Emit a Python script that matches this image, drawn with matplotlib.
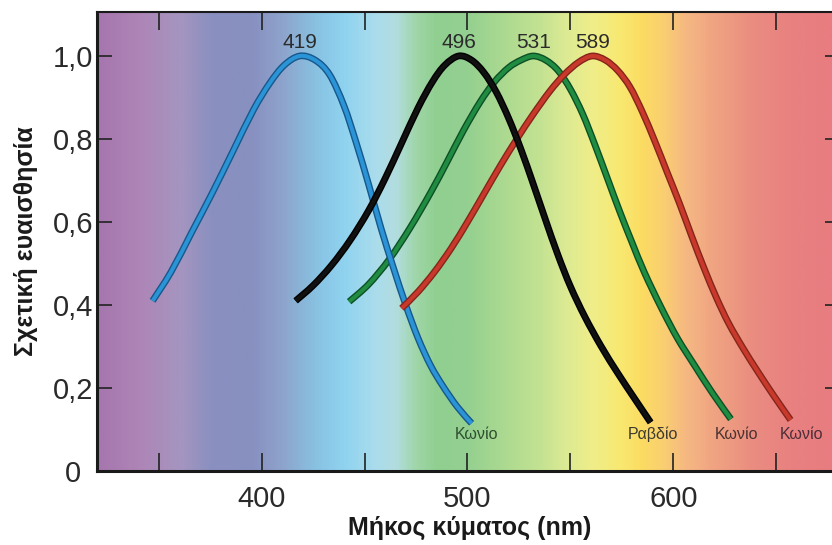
import matplotlib
matplotlib.use("Agg")
import matplotlib.pyplot as plt
import matplotlib.patheffects as pe
import numpy as np
from matplotlib.colors import LinearSegmentedColormap
from matplotlib.path import Path
from matplotlib.patches import PathPatch

plt.rcParams['font.family'] = ['Liberation Sans', 'DejaVu Sans']

# Sensitivity curves (nm, relative sensitivity)
blue_x = [347, 356, 366, 376, 386, 396, 404, 411, 418.5, 426, 433, 440, 446, 452,
          458, 464, 470, 476, 482, 488, 495, 502]
blue_y = [0.41, 0.48, 0.575, 0.67, 0.77, 0.87, 0.935, 0.978, 1.0, 0.99, 0.955, 0.88,
          0.79, 0.69, 0.585, 0.49, 0.40, 0.32, 0.255, 0.205, 0.155, 0.115]

black_x = [416.5, 425, 434, 443, 452, 460, 468, 476, 483, 489, 495.7, 502, 508, 514,
           520, 526, 532, 538, 544, 550, 557, 565, 573, 581, 589]
black_y = [0.41, 0.447, 0.496, 0.556, 0.628, 0.705, 0.79, 0.875, 0.938, 0.978, 1.0,
           0.99, 0.96, 0.913, 0.85, 0.775, 0.691, 0.604, 0.52, 0.445, 0.372, 0.30,
           0.236, 0.176, 0.117]

green_x = [442.5, 452, 462, 472, 482, 490, 498, 506, 513, 520, 526, 532, 538, 544,
           550, 556, 562, 568, 574, 580, 586, 594, 602, 610, 619, 628]
green_y = [0.408, 0.45, 0.51, 0.585, 0.67, 0.744, 0.82, 0.888, 0.937, 0.972, 0.99, 1.0,
           0.99, 0.965, 0.92, 0.86, 0.785, 0.705, 0.625, 0.55, 0.478, 0.395, 0.32,
           0.257, 0.188, 0.125]

red_x = [468, 476, 484, 492, 500, 508, 516, 524, 532, 540, 547, 554, 560.6, 567, 573,
         579, 585, 591, 597, 603, 609, 615, 621, 627, 634, 641, 649, 657]
red_y = [0.392, 0.432, 0.48, 0.536, 0.60, 0.668, 0.736, 0.80, 0.86, 0.915, 0.955,
         0.985, 1.0, 0.99, 0.965, 0.925, 0.865, 0.795, 0.72, 0.645, 0.565, 0.488, 0.417,
         0.355, 0.295, 0.24, 0.18, 0.123]

peak_labels = ["419", "496", "531", "589"]
end_labels = ["Κωνίο", "Ραβδίο", "Κωνίο", "Κωνίο"]

x_ticks = [400, 500, 600]
x_minor = [350, 450, 550, 650]
y_ticks = [0, 0.2, 0.4, 0.6, 0.8, 1.0]
y_tick_labels = ["0", "0,2", "0,4", "0,6", "0,8", "1,0"]

# spectrum background stops (nm, colour)
spectrum_nm = [320, 340, 360, 375, 395, 410, 425, 440, 455, 465, 475, 485, 500, 515,
               535, 548, 562, 575, 585, 595, 607, 620, 640, 660, 681]
spectrum_col = ["#a676ae", "#ae85b6", "#a595c0", "#8a90c0", "#8890c0", "#8ea4cc",
                "#88c0e0", "#8fd3f0", "#aadcec", "#b2dde0", "#9fd6a8", "#90cf90",
                "#94d090", "#a8d890", "#c2e292", "#dcea94", "#f0ee88", "#f8e870",
                "#fcdc62", "#fad070", "#f6b882", "#f0a482", "#ea8c80", "#e88080",
                "#e87c80"]

x0, x1 = 320, 681
y_top = 1.106


def smooth_path(xs, ys):
    # bezier pieces through the read points (catmull-rom style handles)
    p = np.column_stack([xs, ys]).astype(float)
    ext = np.vstack([p[0], p, p[-1]])
    verts = [p[0]]
    codes = [Path.MOVETO]
    for i in range(1, len(ext) - 2):
        c1 = ext[i] + (ext[i + 1] - ext[i - 1]) / 6
        c2 = ext[i + 1] - (ext[i + 2] - ext[i]) / 6
        verts += [c1, c2, ext[i + 1]]
        codes += [Path.CURVE4] * 3
    return Path(verts, codes)


fig = plt.figure(figsize=(8.32, 5.45), dpi=100)
# axes runs a little past the right edge, like the cropped original
ax = fig.add_axes([97 / 832, 1 - 471 / 545, (840 - 97) / 832, (471 - 12) / 545])

stops = [((n - x0) / (x1 - x0), c) for n, c in zip(spectrum_nm, spectrum_col)]
cmap = LinearSegmentedColormap.from_list("spectrum", stops)
grad = np.linspace(x0, x1, 900)[None, :]
ax.imshow(grad, extent=[x0, x1, 0, y_top], aspect='auto', cmap=cmap,
          vmin=x0, vmax=x1, zorder=0, interpolation='bilinear')

# curves: (x, y, inner colour, outline colour, zorder)
curves = [
    (green_x, green_y, "#1f8c42", "#0d4f25", 3),
    (blue_x, blue_y, "#2a94d6", "#17578a", 4),
    (red_x, red_y, "#c8392b", "#84251b", 5),
    (black_x, black_y, "#111111", "#000000", 6),
]
peak_pos = []
for cx, cy, col, edge, z in curves:
    patch = PathPatch(smooth_path(cx, cy), fill=False, edgecolor=col, lw=2.9,
                      zorder=z, capstyle='butt', joinstyle='round',
                      path_effects=[pe.Stroke(linewidth=4.9, foreground=edge,
                                              capstyle='butt'),
                                    pe.Normal()])
    ax.add_patch(patch)
    peak_pos.append(cx[int(np.argmax(cy))])

# peak numbers sit above each curve, in blue, black, green, red order
order = [1, 3, 0, 2]
for lbl, i in zip(peak_labels, order):
    ax.text(peak_pos[i], 1.032, lbl, ha='center', va='center', fontsize=15,
            color="#2b2b2b", zorder=7)

# names under the curve ends
end_x = [blue_x[-1], black_x[-1], green_x[-1], red_x[-1]]
end_offset = [2.5, 1, 2.5, 5.5]
end_cols = ["#2e4f30", "#3c3a30", "#4a3232", "#4a2f38"]
for lbl, ex, off, c in zip(end_labels, end_x, end_offset, end_cols):
    ax.text(ex + off, 0.089, lbl, ha='center', va='center', fontsize=11.5,
            color=c, zorder=7)

ax.set_xlim(x0, x1)
ax.set_ylim(0, y_top)
ax.set_xticks(x_ticks)
ax.set_xticks(x_minor, minor=True)
ax.set_yticks(y_ticks)
ax.set_yticklabels(y_tick_labels)

ax.tick_params(axis='both', which='both', direction='in', top=True, right=True,
               color="#222222", width=1.2, labelsize=21, labelcolor="#2a2a2a")
ax.tick_params(axis='x', which='both', length=13, pad=10)
ax.tick_params(axis='y', which='both', length=11, pad=17)
for lbl in ax.get_yticklabels():
    lbl.set_ha('center')

ax.spines['right'].set_visible(False)
ax.spines['left'].set_linewidth(2.2)
ax.spines['bottom'].set_linewidth(2.2)
ax.spines['top'].set_linewidth(1.5)
for s in ['left', 'bottom', 'top']:
    ax.spines[s].set_color("#1a1a1a")
    ax.spines[s].set_zorder(8)

fig.text(470 / 832, 1 - 528 / 545, "Μήκος κύματος (nm)", ha='center', va='center',
         fontsize=18, fontweight='bold', color="#1a1a1a")
fig.text(26 / 832, 1 - 241 / 545, "Σχετική ευαισθησία", ha='center', va='center',
         rotation=90, fontsize=18, fontweight='bold', color="#1a1a1a")

fig.savefig("out.png", dpi=100)
